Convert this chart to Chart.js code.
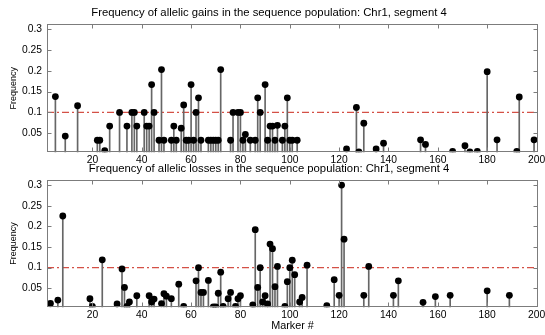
<!DOCTYPE html>
<html><head><meta charset="utf-8">
<script src="https://cdn.jsdelivr.net/npm/chart.js@4.4.1/dist/chart.umd.min.js"></script>
<style>
html,body{margin:0;padding:0;background:#fff;}
body{width:545px;height:335px;position:relative;overflow:hidden;}
#w1{position:absolute;left:0;top:0;width:545px;height:167px;}
#w2{position:absolute;left:0;top:150px;width:545px;height:185px;}
</style></head><body>
<div id="w1"><canvas id="c1"></canvas></div>
<div id="w2"><canvas id="c2"></canvas></div>
<script>
// ---- data ----
const gainMarkers = [5,9,14,22,23,25,27,31,34,36,37,38,41,42,43,44,45,47,48,49,52,53,54,56,57,58,59,60,61,62,63,64,67,68,69,70,71,72,76,77,79,80,81,82,84,86,87,88,90,91,92,93,94,95,97,98,99,100,101,103,123,127,128,130,135,138,153,155,166,171,173,176,180,184,192,193,199];
const gainFreq = [0.138,0.043,0.116,0.033,0.033,0.008,0.067,0.1,0.067,0.1,0.1,0.067,0.1,0.067,0.067,0.167,0.1,0.033,0.203,0.033,0.033,0.067,0.033,0.062,0.118,0.033,0.033,0.167,0.033,0.1,0.135,0.033,0.033,0.033,0.033,0.033,0.033,0.203,0.033,0.1,0.1,0.1,0.033,0.047,0.033,0.033,0.135,0.1,0.167,0.033,0.067,0.067,0.033,0.069,0.033,0.067,0.135,0.033,0.033,0.033,0.012,0.112,0.005,0.074,0.012,0.026,0.034,0.023,0.006,0.02,0.005,0.006,0.198,0.034,0.006,0.137,0.034];
const lossMarkers = [3,6,8,19,20,24,30,32,33,34,35,38,43,44,45,48,49,50,52,55,57,62,63,64,65,67,69,70,71,72,73,75,76,78,79,80,85,86,87,88,89,90,91,92,93,94,95,98,99,100,101,102,104,105,107,115,118,120,121,122,130,132,142,144,154,159,165,180,189];
const lossFreq = [0.0135,0.0215,0.225,0.025,0.006,0.119,0.012,0.097,0.052,0.006,0.017,0.032,0.032,0.017,0.024,0.013,0.037,0.031,0.025,0.06,0.006,0.068,0.1,0.04,0.04,0.069,0.005,0.005,0.038,0.089,0.006,0.025,0.04,0.006,0.025,0.032,0.01,0.192,0.052,0.1,0.017,0.032,0.012,0.157,0.146,0.054,0.103,0.006,0.066,0.1,0.118,0.083,0.017,0.028,0.106,0.008,0.071,0.033,0.3,0.169,0.033,0.103,0.033,0.068,0.016,0.03,0.033,0.044,0.033];
const thresholdFreq = 0.1;
const xTicks = [20,40,60,80,100,120,140,160,180,200];
const yTicks = [0.05,0.1,0.15,0.2,0.25,0.3];
const yTickLabels = ['0.05','0.1','0.15','0.2','0.25','0.3'];
const xRange = [1.6, 200.6];
const yRange = [0.004, 0.3127];
const titles = ['Frequency of allelic gains in the sequence population: Chr1, segment 4',
                'Frequency of allelic losses in the sequence population: Chr1, segment 4'];
const yLabel = 'Frequency';
const xLabel = 'Marker #';

const FONT = "'Liberation Sans', Arial, Helvetica, sans-serif";

const framePlugin = {
  id: 'frame',
  afterDraw(chart) {
    const {ctx, chartArea: a, scales: {x, y}} = chart;
    ctx.save();
    ctx.strokeStyle = '#7c7c7c';
    ctx.lineWidth = 1;
    const L = Math.round(a.left) + 0.5, R = Math.round(a.right) - 0.5;
    const T = Math.round(a.top) + 0.5, B = Math.round(a.bottom) - 0.5;
    ctx.strokeRect(L, T, R - L, B - T);
    const tl = 4;
    ctx.beginPath();
    for (const v of xTicks) {
      const px = Math.round(x.getPixelForValue(v)) + 0.5;
      ctx.moveTo(px, B); ctx.lineTo(px, B - tl);
      ctx.moveTo(px, T); ctx.lineTo(px, T + tl);
    }
    for (const v of yTicks) {
      const py = Math.round(y.getPixelForValue(v)) + 0.5;
      ctx.moveTo(L, py); ctx.lineTo(L + tl, py);
      ctx.moveTo(R, py); ctx.lineTo(R - tl, py);
    }
    ctx.stroke();
    ctx.restore();
  }
};

function makeChart(id, xs, ys, title, titlePad, xHeight, showXTitle) {
  const pts = xs.map((v, i) => ({x: v, y: ys[i]}));
  return new Chart(document.getElementById(id), {
    type: 'bar',
    data: {datasets: [
      {type: 'line', data: [{x: xRange[0], y: thresholdFreq}, {x: xRange[1], y: thresholdFreq}],
       borderColor: 'rgb(212,80,70)', borderWidth: 1.3, borderDash: [7, 3, 2, 3], pointRadius: 0, order: 3},
      {type: 'bar', data: pts, backgroundColor: '#666666', barThickness: 1, order: 2},
      {type: 'line', data: pts, showLine: false, pointRadius: 3.4, pointBackgroundColor: '#000',
       pointBorderWidth: 0, borderColor: '#000', order: 0}
    ]},
    options: {
      responsive: true, maintainAspectRatio: false, animation: false, events: [],
      layout: {padding: {left: 0, right: 7, top: 0, bottom: 0}},
      plugins: {
        legend: {display: false}, tooltip: {enabled: false},
        title: {display: true, text: title, color: '#000',
                font: {family: FONT, size: 11.3, weight: 'normal', lineHeight: 1.2}, padding: titlePad}
      },
      scales: {
        x: {type: 'linear', min: xRange[0], max: xRange[1], offset: false,
            grid: {display: false, drawTicks: false}, border: {display: false},
            ticks: {color: '#000', font: {family: FONT, size: 10.3}, padding: 1.5, autoSkip: false, maxRotation: 0,
                    callback: v => String(v)},
            afterBuildTicks: s => { s.ticks = xTicks.map(v => ({value: v})); },
            afterFit: s => { s.height = xHeight; s.paddingLeft = 0; s.paddingRight = 0; },
            title: {display: showXTitle, text: xLabel, color: '#000', font: {family: FONT, size: 10.8, lineHeight: 1.2},
                    padding: {top: 0, bottom: 2.4}}},
        y: {type: 'linear', min: yRange[0], max: yRange[1],
            grid: {display: false, drawTicks: false}, border: {display: false},
            ticks: {color: '#000', font: {family: FONT, size: 10.3}, padding: 5,
                    callback: v => yTickLabels[yTicks.indexOf(v)]},
            afterBuildTicks: s => { s.ticks = yTicks.map(v => ({value: v})); },
            afterFit: s => { s.width = 47; s.paddingTop = 0; s.paddingBottom = 0; },
            title: {display: true, text: yLabel, color: '#000', font: {family: FONT, size: 9, lineHeight: 1.2},
                    padding: {top: 8.6, bottom: 0}}}
      }
    },
    plugins: [framePlugin]
  });
}

makeChart('c1', gainMarkers, gainFreq, titles[0], {top: 6.2, bottom: 4.24}, 14.7, false);
makeChart('c2', lossMarkers, lossFreq, titles[1], {top: 12, bottom: 4.24}, 27.7, true);
</script>
</body></html>
